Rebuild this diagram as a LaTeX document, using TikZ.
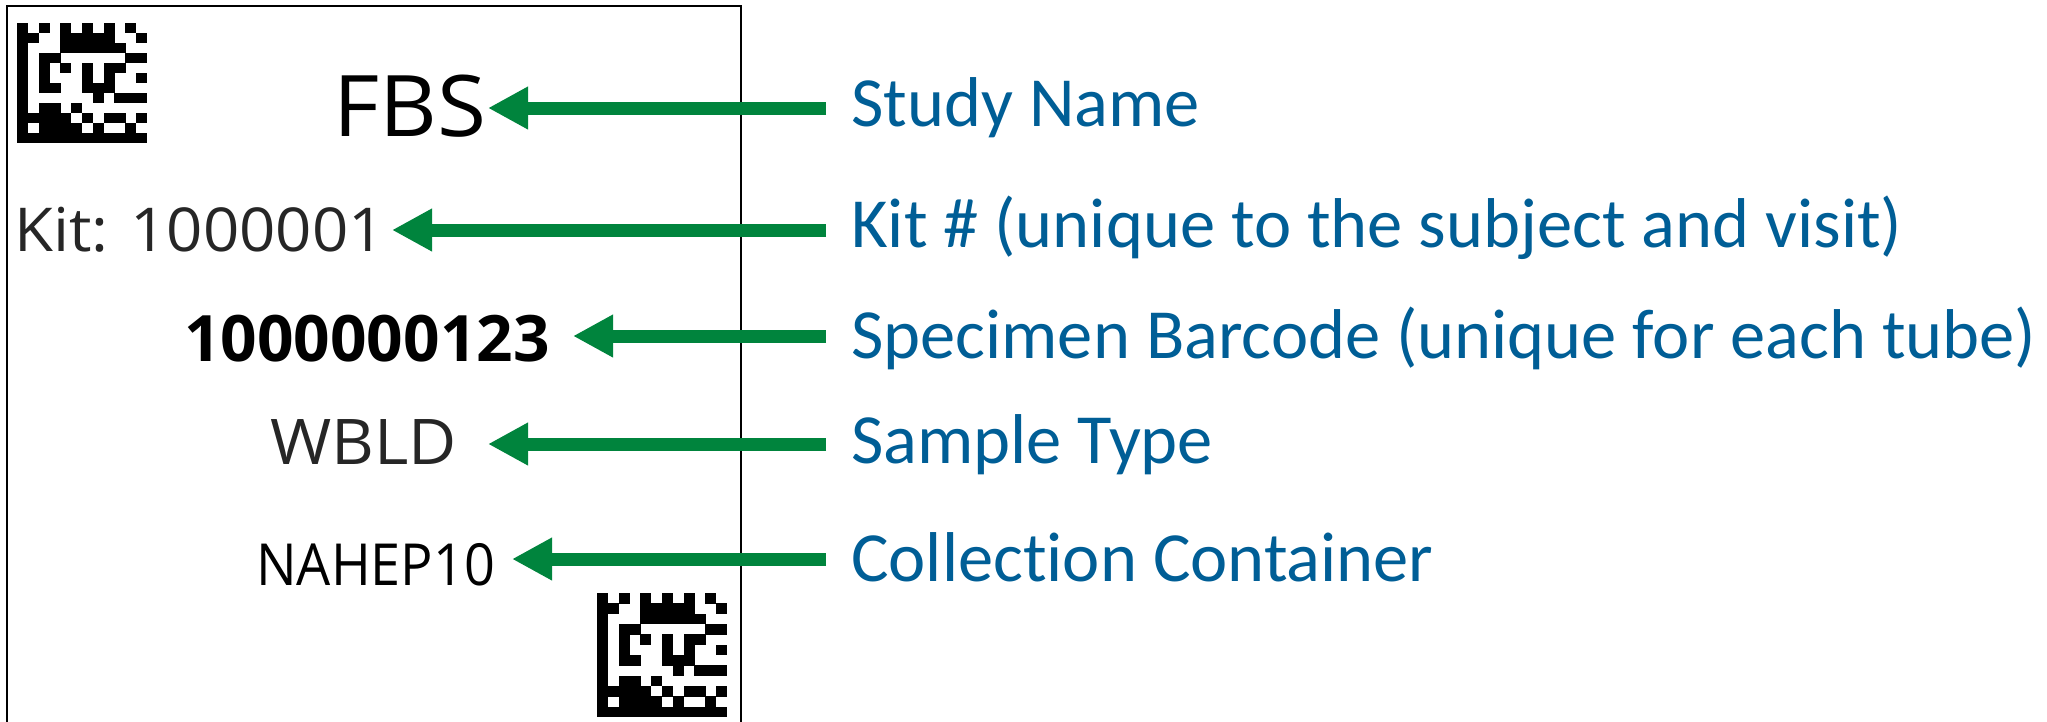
\documentclass[tikz,border=0pt]{standalone}
\usepackage{fontspec}
\setmainfont{Carlito}[Ligatures=NoCommon]
\newfontfamily\tagsans{Open Sans}
\newfontfamily\tagwide[FakeStretch=1.05]{Open Sans}
\newfontfamily\tagnarrow[FakeStretch=0.93]{Open Sans}
\usetikzlibrary{arrows.meta}

\definecolor{callout}{RGB}{0,132,61}
\definecolor{notetext}{RGB}{0,94,150}

% 12x12 Data Matrix style code: dark modules listed row by row
\newcommand\dmsymbol[4]{%
  \begin{scope}[shift={(#1,#2)}, x=#3pt, y=-#4pt]
    \foreach \r/\cols in {
      0/{0,2,4,6,8,10},
      1/{0,1,4,5,6,7,8,11},
      2/{0,4,5,6,7,8,9},
      3/{0,2,3,10,11},
      4/{0,2,4,6,8,9},
      5/{0,2,6,8,11},
      6/{0,2,3,6,7,8},
      7/{0,7,9,10,11},
      8/{0,2,3,5},
      9/{0,1,2,3,4,6,8,9,11},
      10/{0,2,3,4,5,7,10},
      11/{0,1,2,3,4,5,6,7,8,9,10,11}}{
      \foreach \c in \cols {
        \fill[black] (\c,\r) rectangle ++(1.03,1.03);
      }
    }
  \end{scope}}

\begin{document}
\begin{tikzpicture}[x=1pt, y=-1pt,
  note/.style={inner sep=0pt, anchor=base west, text=notetext,
    font=\fontsize{70.5}{80}\selectfont},
  tag/.style={inner sep=0pt, anchor=base west},
  pointer/.style={draw=callout, line width=13pt,
    -{Triangle[length=40pt, width=40pt]}, callout}]

  \useasboundingbox (0,0) rectangle (2047,721);

  % label outline, running off the bottom edge
  \draw[line width=2.2pt] (7,730) -- (7,6) -- (741,6) -- (741,730);

  % 2D codes in the corners
  \dmsymbol{17}{23}{10.83}{10}
  \dmsymbol{597}{593}{10.83}{10.33}

  % printed fields
  \node[tag, font=\tagwide\fontsize{85}{90}\selectfont] (fbs) at (333,136) {FBS};
  \node[tag, text=black!85, font=\tagwide\fontsize{60.5}{70}\selectfont] (kit) at (14,251) {Kit: 1000001};
  \node[tag, font=\tagsans\bfseries\fontsize{64}{70}\selectfont] (barcode) at (184,361) {1000000123};
  \node[tag, text=black!85, font=\tagwide\fontsize{63}{70}\selectfont] (wbld) at (270,464) {WBLD};
  \node[tag, font=\tagnarrow\fontsize{58}{70}\selectfont] (container) at (256,585) {NAHEP10};

  % descriptions
  \node[note] (study) at (851,126) {Study Name};
  \node[note] (kitnote) at (851,247) {Kit \# (unique to the subject and visit)};
  \node[note] (specimen) at (851,358) {Specimen Barcode (unique for each tube)};
  \node[note] (sample) at (851,463) {Sample Type};
  \node[note] (collection) at (851,581) {Collection Container};

  % arrow ends
  \coordinate (studyTail) at (826,108);      \coordinate (fbsTip) at (488,108);
  \coordinate (kitTail) at (826,230);        \coordinate (kitTip) at (392,230);
  \coordinate (specimenTail) at (826,336);   \coordinate (barcodeTip) at (573,336);
  \coordinate (sampleTail) at (826,444);     \coordinate (wbldTip) at (488,444);
  \coordinate (collectionTail) at (826,559); \coordinate (containerTip) at (512,559);

  \draw[pointer] (studyTail) -- (fbsTip);
  \draw[pointer] (kitTail) -- (kitTip);
  \draw[pointer] (specimenTail) -- (barcodeTip);
  \draw[pointer] (sampleTail) -- (wbldTip);
  \draw[pointer] (collectionTail) -- (containerTip);
\end{tikzpicture}
\end{document}
